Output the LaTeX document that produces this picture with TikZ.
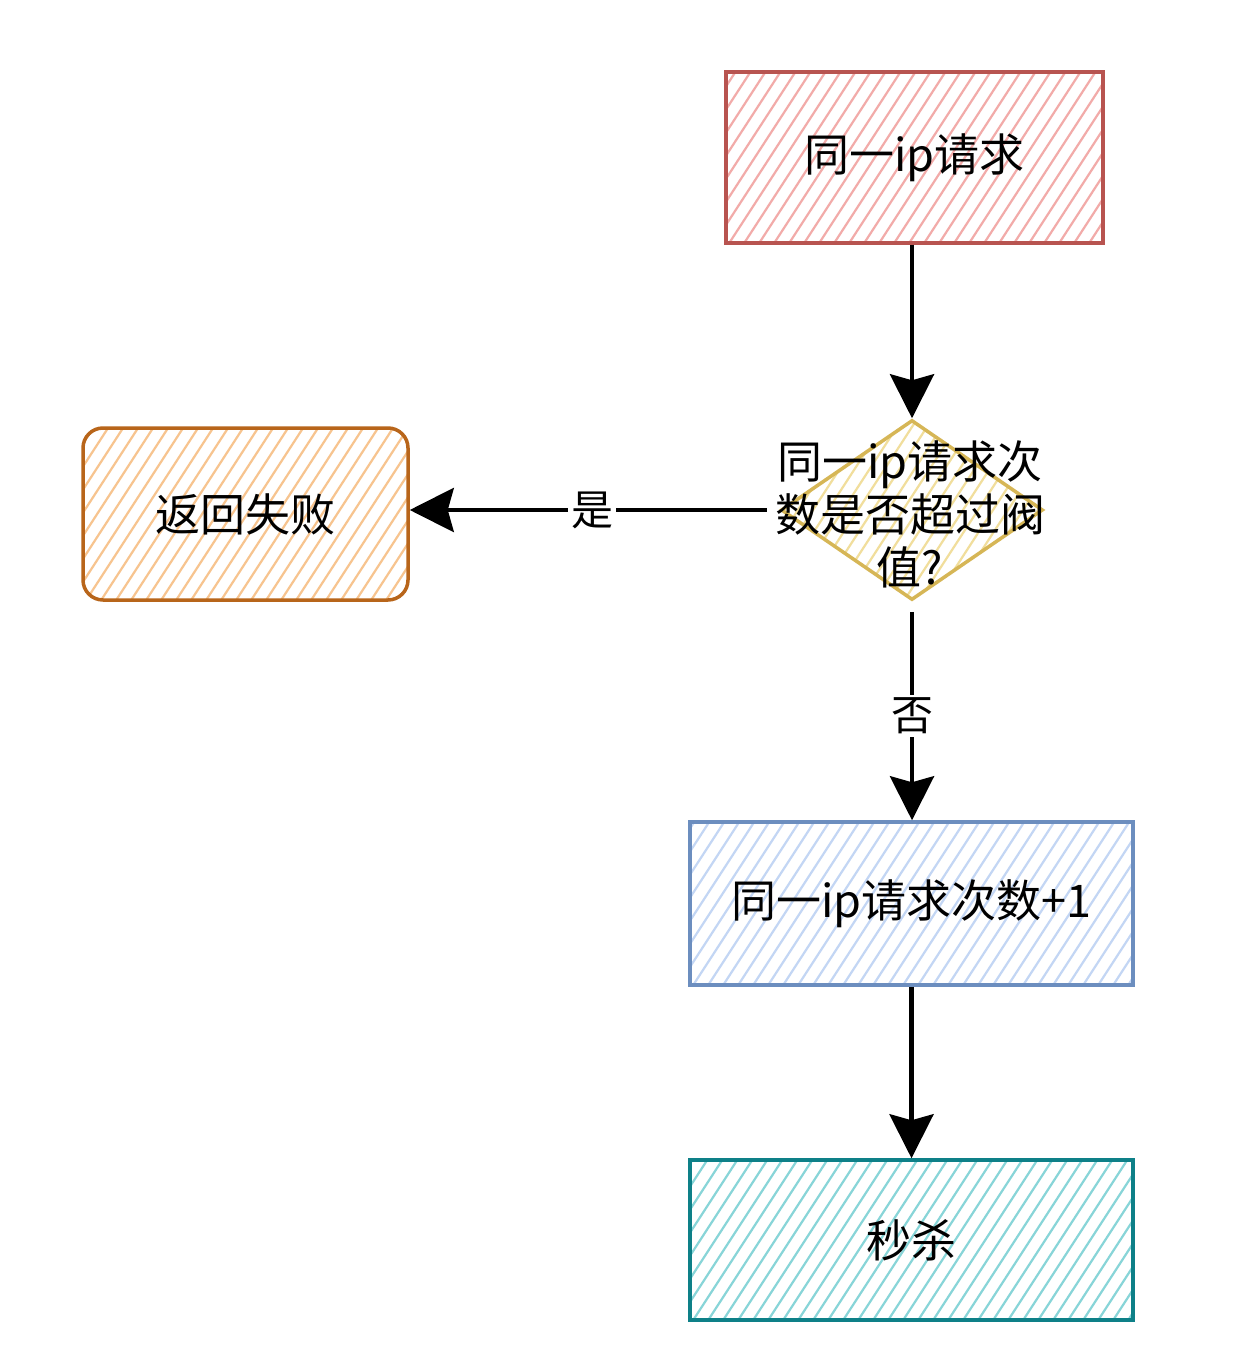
\documentclass[tikz,border=0pt]{standalone}
\usepackage{fontspec}
\setmainfont{Noto Sans CJK SC}
\usetikzlibrary{shapes.geometric,arrows.meta}
\definecolor{redS}{HTML}{B85450}
\definecolor{redH}{HTML}{F2ABA9}
\definecolor{oraS}{HTML}{B8651A}
\definecolor{oraH}{HTML}{F7C48F}
\definecolor{yelS}{HTML}{D6B656}
\definecolor{yelH}{HTML}{F1DE9C}
\definecolor{bluS}{HTML}{6C8EBF}
\definecolor{bluH}{HTML}{C3D6F4}
\definecolor{teaS}{HTML}{0E8088}
\definecolor{teaH}{HTML}{88D5D8}
\tikzset{
  hatch/.style={path picture={
    \foreach \k in {-10,...,32}{
      \draw[#1,line width=2.2pt] ([xshift=\k*15pt,yshift=-5pt]path picture bounding box.south west) -- ++(130pt,200pt);
    }}},
  box/.style={draw=#1, line width=3.5pt, inner sep=0pt, font=\fontsize{45}{54}\selectfont},
  arr/.style={line width=4.5pt, -{Stealth[length=44pt,width=44pt,inset=6pt]}},
  lbl/.style={fill=white, inner sep=3pt, font=\fontsize{42}{50}\selectfont},
  dtxt/.style={align=center, inner sep=0pt, font=\fontsize{45}{53}\selectfont}
}
\begin{document}
\begin{tikzpicture}[x=1pt,y=-1pt]
\useasboundingbox (0,0) rectangle (1254,1348);
\fill[white] (0,0) rectangle (1254,1348);

\node[box=redS, hatch=redH, minimum width=377pt, minimum height=171pt] (req) at (914.5,157.5) {同一ip请求};
\node[diamond, draw=yelS, line width=3.5pt, hatch=yelH, minimum width=262pt, minimum height=180pt, inner sep=0pt] (dec) at (912,510) {};
\node[box=oraS, hatch=oraH, rounded corners=20pt, minimum width=325pt, minimum height=172pt] (fail) at (245.5,514) {返回失败};
\node[box=bluS, hatch=bluH, minimum width=443pt, minimum height=163pt] (inc) at (911.5,903.5) {同一ip请求次数+1};
\node[box=teaS, hatch=teaH, minimum width=443pt, minimum height=160pt] (kill) at (911.5,1240) {秒杀};
\node[dtxt] (dectxt) at (910,514) {同一ip请求次\\数是否超过阀\\值?};

\draw[arr, shorten <=8pt] (dectxt.west |- dec.west) -- node[lbl] (yes) {是} (fail.east |- dec.west);
\draw[arr] (req.south -| dec.north) -- (dec.north);
\draw[arr] (dec.south) ++(0,10) coordinate (decb) (decb) -- node[lbl, pos=0.5] (no) {否} (inc.north -| dec.south);
\draw[arr] (inc.south -| kill.north) -- (kill.north);
\end{tikzpicture}
\end{document}
